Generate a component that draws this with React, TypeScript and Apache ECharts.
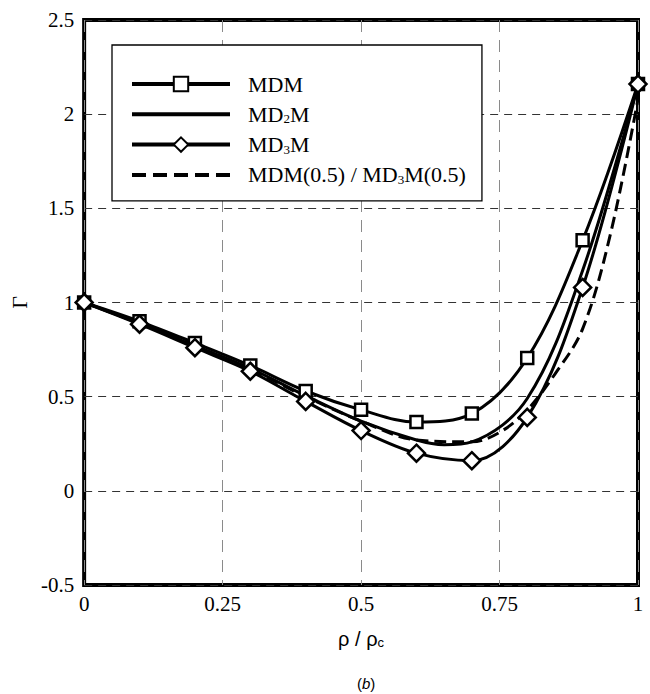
import React, { useEffect, useRef } from "react";
import * as echarts from "echarts";

// ---- data ----
const xMarked = [0, 0.1, 0.2, 0.3, 0.4, 0.5, 0.6, 0.7, 0.8, 0.9, 1.0];
const mdmValues = [1.0, 0.9, 0.785, 0.665, 0.53, 0.43, 0.365, 0.41, 0.705, 1.33, 2.16];
const md3mValues = [1.0, 0.885, 0.76, 0.635, 0.475, 0.32, 0.2, 0.16, 0.39, 1.08, 2.16];

const md2mX = [0, 0.1, 0.2, 0.3, 0.4, 0.5, 0.6, 0.65, 0.7, 0.8, 0.9, 1.0];
const md2mValues = [1.0, 0.89, 0.77, 0.65, 0.505, 0.37, 0.27, 0.245, 0.26, 0.49, 1.17, 2.16];

const halfX = [0, 0.1, 0.2, 0.3, 0.4, 0.5, 0.6, 0.7, 0.75, 0.8, 0.85, 0.9, 0.95, 1.0];
const halfValues = [1.0, 0.89, 0.77, 0.645, 0.5, 0.37, 0.27, 0.26, 0.31, 0.43, 0.62, 0.86, 1.36, 2.08];

const seriesNames = ["MDM", "MD2M", "MD3M", "MDM(0.5) / MD3M(0.5)"];
const legendLabels: Record<string, string> = {
  MDM: "{g|}{n|MDM}",
  MD2M: "{g|}{n|MD}{s|2}{n|M}",
  MD3M: "{g|}{n|MD}{s|3}{n|M}",
  "MDM(0.5) / MD3M(0.5)": "{g|}{n|MDM(0.5) / MD}{s|3}{n|M(0.5)}",
};

const zip = (xs: number[], ys: number[]) => xs.map((x, i) => [x, ys[i]]);

const SERIF = "Liberation Serif";
const SANS = "Liberation Sans";

const tickRich = { t: { fontFamily: SERIF, fontSize: 21, color: "#000" } };

export default function App() {
  const ref = useRef<HTMLDivElement>(null);
  useEffect(() => {
    if (!ref.current) return;
    const chart = echarts.init(ref.current, null, { renderer: "svg" });
    const lineW = 3;
    const hidden = { color: "transparent", borderColor: "transparent", borderWidth: 0 };
    chart.setOption({
      animation: false,
      backgroundColor: "#fff",
      textStyle: { fontFamily: SERIF, color: "#000" },
      grid: {
        left: 84,
        right: 12,
        top: 20,
        bottom: 109,
        show: true,
        borderColor: "#000",
        borderWidth: 4,
        backgroundColor: "transparent",
      },
      legend: {
        data: [
          { name: seriesNames[0], lineStyle: { width: 4 } },
          { name: seriesNames[1], lineStyle: { width: 4 }, itemStyle: hidden },
          { name: seriesNames[2], lineStyle: { width: 4 } },
          { name: seriesNames[3], lineStyle: { width: 4, type: [14, 7] }, itemStyle: hidden },
        ],
        orient: "vertical",
        left: 112,
        top: 45,
        padding: [28, 16, 15, 18],
        itemWidth: 98,
        itemHeight: 18,
        itemGap: 8.3,
        backgroundColor: "#fff",
        borderColor: "#000",
        borderWidth: 1.3,
        borderRadius: 0,
        z: 10,
        formatter: (name: string) => legendLabels[name] || name,
        textStyle: {
          color: "#000",
          fontFamily: SERIF,
          fontSize: 22,
          rich: {
            g: { width: 13 },
            n: { fontFamily: SERIF, fontSize: 22, lineHeight: 18, color: "#000" },
            s: {
              fontFamily: SERIF,
              fontSize: 13,
              lineHeight: 6,
              verticalAlign: "bottom",
              color: "#000",
            },
          },
        },
      },
      xAxis: {
        type: "value",
        min: 0,
        max: 1,
        interval: 0.25,
        axisLine: { show: false },
        axisTick: { show: false },
        axisLabel: {
          color: "#000",
          fontFamily: SERIF,
          fontSize: 21,
          margin: 8,
          formatter: (v: number) => `{t|${v}}`,
          rich: tickRich,
        },
        splitLine: {
          show: true,
          lineStyle: { color: "#8a8a8a", width: 1, type: [12, 8] },
        },
        name: "{a|ρ / ρ}{s|c}",
        nameLocation: "middle",
        nameGap: 44,
        nameTextStyle: {
          rich: {
            a: { fontFamily: SANS, fontSize: 20, lineHeight: 20, color: "#000" },
            s: {
              fontFamily: SANS,
              fontSize: 13,
              lineHeight: 8,
              verticalAlign: "bottom",
              color: "#000",
            },
          },
        },
      },
      yAxis: {
        type: "value",
        min: -0.5,
        max: 2.5,
        interval: 0.5,
        axisLine: { show: false },
        axisTick: { show: false },
        axisLabel: {
          color: "#000",
          fontFamily: SERIF,
          fontSize: 21,
          margin: 10,
          formatter: (v: number) => `{t|${v}}`,
          rich: tickRich,
        },
        splitLine: {
          show: true,
          lineStyle: { color: "#333", width: 1, type: [8, 6] },
        },
        name: "Γ",
        nameLocation: "middle",
        nameGap: 44,
        nameTextStyle: { fontFamily: SERIF, fontSize: 22, color: "#000" },
      },
      graphic: [
        {
          type: "text",
          left: 357,
          top: 676,
          style: {
            text: "({i|b})",
            fontFamily: SANS,
            fontSize: 15,
            fill: "#000",
            rich: { i: { fontFamily: SANS, fontSize: 15, fontStyle: "italic", fill: "#000" } },
          },
        },
      ],
      series: [
        {
          name: "MDM",
          type: "line",
          data: zip(xMarked, mdmValues),
          smooth: 0.35,
          symbol: "rect",
          symbolSize: 12,
          showAllSymbol: true,
          lineStyle: { color: "#000", width: lineW },
          itemStyle: { color: "#fff", borderColor: "#000", borderWidth: 2.5 },
          z: 5,
        },
        {
          name: "MD2M",
          type: "line",
          data: zip(md2mX, md2mValues),
          smooth: 0.35,
          symbol: "none",
          lineStyle: { color: "#000", width: lineW },
          itemStyle: { color: "#000" },
          z: 4,
        },
        {
          name: "MD3M",
          type: "line",
          data: zip(xMarked, md3mValues),
          smooth: 0.35,
          symbol: "diamond",
          symbolSize: 17,
          showAllSymbol: true,
          lineStyle: { color: "#000", width: lineW },
          itemStyle: { color: "#fff", borderColor: "#000", borderWidth: 2.5 },
          z: 5,
        },
        {
          name: "MDM(0.5) / MD3M(0.5)",
          type: "line",
          data: zip(halfX, halfValues),
          smooth: 0.35,
          symbol: "none",
          lineStyle: { color: "#000", width: lineW, type: [12, 6] },
          itemStyle: { color: "#000" },
          z: 3,
        },
      ],
    });
    return () => chart.dispose();
  }, []);
  return (
    <div
      ref={ref}
      style={{ position: "absolute", left: 0, top: 0, width: 650, height: 694, background: "#fff" }}
    />
  );
}
